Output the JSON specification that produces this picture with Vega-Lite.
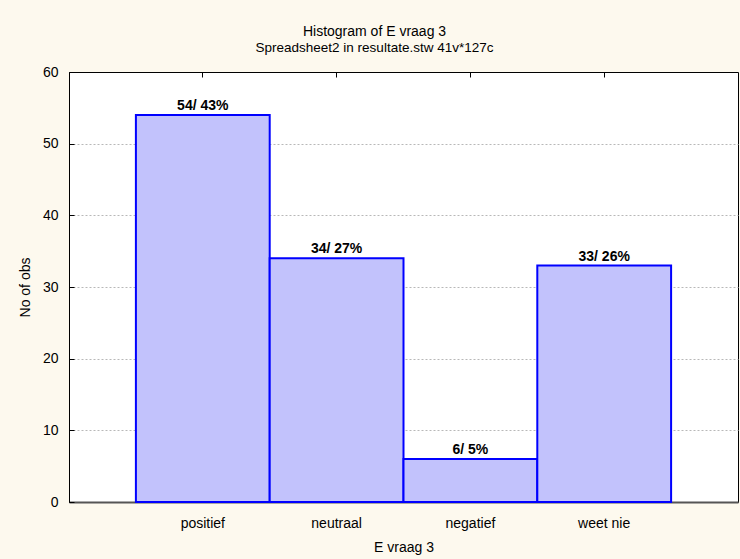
{
  "$schema": "https://vega.github.io/schema/vega-lite/v6.json",
  "width": 669,
  "height": 430,
  "autosize": {"type": "none"},
  "padding": {"left": 69, "top": 72, "right": 2, "bottom": 57},
  "background": "#FDF9EE",
  "title": {
    "text": "Histogram of E vraag 3",
    "subtitle": "Spreadsheet2 in resultate.stw 41v*127c",
    "font": "Liberation Sans",
    "fontSize": 14,
    "fontWeight": "normal",
    "color": "#000000",
    "subtitleFont": "Liberation Sans",
    "subtitleFontSize": 13.5,
    "subtitleColor": "#000000",
    "subtitlePadding": 2,
    "anchor": "middle",
    "offset": 11,
    "dx": -29
  },
  "data": {
    "values": [
      {"category": "positief", "count": 54, "label": "54/ 43%"},
      {"category": "neutraal", "count": 34, "label": "34/ 27%"},
      {"category": "negatief", "count": 6, "label": "6/ 5%"},
      {"category": "weet nie", "count": 33, "label": "33/ 26%"}
    ]
  },
  "config": {
    "view": {"stroke": "#000000", "strokeWidth": 1, "fill": "#ffffff"},
    "axis": {
      "labelFont": "Liberation Sans",
      "labelFontSize": 14,
      "labelColor": "#000000",
      "titleFont": "Liberation Sans",
      "titleFontSize": 14,
      "titleFontWeight": "normal",
      "titleColor": "#000000"
    }
  },
  "resolve": {"axis": {"x": "independent"}},
  "encoding": {
    "x": {
      "field": "category",
      "type": "nominal",
      "sort": null,
      "scale": {"type": "band", "paddingInner": 0, "paddingOuter": 0.5}
    },
    "y": {
      "field": "count",
      "type": "quantitative",
      "scale": {"domain": [0, 60], "nice": false},
      "axis": {
        "title": "No of obs",
        "values": [0, 10, 20, 30, 40, 50, 60],
        "domainColor": "#000000",
        "tickColor": "#000000",
        "tickSize": -5,
        "labelPadding": 16,
        "titlePadding": 10,
        "grid": true,
        "gridColor": "#b8b8b8",
        "gridDash": [2, 2],
        "gridWidth": 1,
        "gridOpacity": {"condition": {"test": "datum.value === 60 || datum.value === 0", "value": 0}, "value": 1}
      }
    }
  },
  "layer": [
    {
      "mark": {"type": "bar", "fill": "#c2c2fc", "stroke": "#0000ff", "strokeWidth": 2},
      "encoding": {
        "x": {
          "field": "category",
          "type": "nominal",
          "sort": null,
          "scale": {"type": "band", "paddingInner": 0, "paddingOuter": 0.5},
          "axis": {
            "title": "E vraag 3",
            "labelAngle": 0,
            "domainColor": "#555555",
            "domainWidth": 2,
            "tickColor": "#000000",
            "tickSize": -5,
            "labelPadding": 19,
            "titlePadding": 10,
            "grid": false
          }
        }
      }
    },
    {
      "mark": {"type": "text", "baseline": "alphabetic", "dy": -5, "font": "Liberation Sans", "fontSize": 14, "fontWeight": "bold", "color": "#000000"},
      "encoding": {
        "x": {
          "field": "category",
          "type": "nominal",
          "sort": null,
          "scale": {"type": "band", "paddingInner": 0, "paddingOuter": 0.5},
          "bandPosition": 0.5,
          "axis": null
        },
        "text": {"field": "label"}
      }
    },
    {
      "mark": {"type": "tick", "opacity": 0},
      "encoding": {
        "x": {
          "field": "category",
          "type": "nominal",
          "sort": null,
          "scale": {"type": "band", "paddingInner": 0, "paddingOuter": 0.5},
          "axis": {
            "orient": "top",
            "labels": false,
            "title": null,
            "domain": false,
            "tickColor": "#000000",
            "tickSize": -5,
            "grid": false
          }
        }
      }
    }
  ]
}
